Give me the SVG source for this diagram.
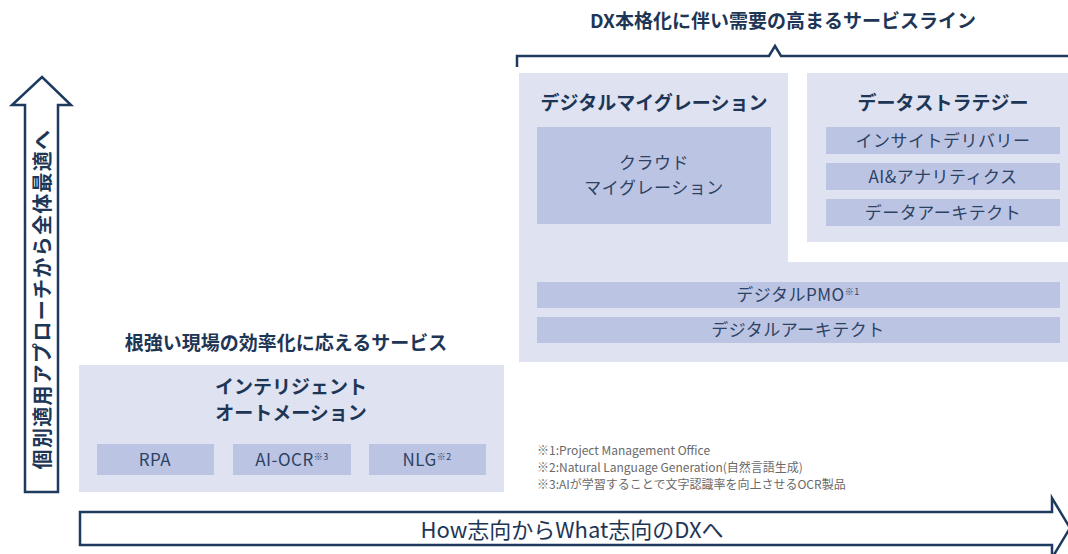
<svg xmlns="http://www.w3.org/2000/svg" width="1068" height="554" viewBox="0 0 1068 554">
<style>
text{font-family:"Noto Sans CJK JP","Noto Sans",sans-serif;fill:#1e3656}
.t{font-size:19px;font-weight:bold;text-anchor:middle}
.i{font-size:17px;text-anchor:middle;fill:#2c4263;letter-spacing:0.5px}
.pl{fill:#dfe2f1}
.bx{fill:#bcc4e3}
.ln{fill:none;stroke:#1f3a5f;stroke-width:2.5}
.fn{font-size:12px;fill:#6a6a6a}
</style>
<rect width="1068" height="554" fill="#fff"/>
<g id="connectors">
<path id="vertical-arrow" class="ln" d="M25,492 L58,492 L58,105 L71,105 L42,77 L12,105 L25,105 Z" fill="#fff"/>
<path id="horizontal-arrow" class="ln" d="M80,512 L1052,512 L1052,498 L1070,528 L1052,558 L1052,545 L80,545 Z" fill="#fff"/>
<path id="bracket" class="ln" d="M517,67 L517,56 L769,56 L775,46 L781,56 L1068,56"/>
</g>
<text x="41" y="299" transform="rotate(-90 41 299)" dominant-baseline="central" style="font-size:20px;font-weight:bold;text-anchor:middle;letter-spacing:1.3px">個別適用アプローチから全体最適へ</text>
<text x="572" y="528" dominant-baseline="central" style="font-size:22px;text-anchor:middle">How志向からWhat志向のDXへ</text>
<text class="t" x="783" y="28">DX本格化に伴い需要の高まるサービスライン</text>
<g id="digital-panel">
<path class="pl" d="M519,73 L788,73 L788,262 L1068,262 L1068,362 L519,362 Z"/>
</g>
<g id="digital-migration">
<text class="t" x="654" y="110">デジタルマイグレーション</text>
<rect class="bx" x="537" y="127" width="234" height="97"/>
<text class="i" x="654" y="169">クラウド</text>
<text class="i" x="654" y="194">マイグレーション</text>
</g>
<g id="data-strategy">
<rect class="pl" x="807" y="73" width="261" height="169"/>
<text class="t" x="943" y="110">データストラテジー</text>
<rect class="bx" x="826" y="127" width="234" height="27"/>
<text class="i" x="943" y="147">インサイトデリバリー</text>
<rect class="bx" x="826" y="163" width="234" height="27"/>
<text class="i" x="943" y="183">AI&amp;アナリティクス</text>
<rect class="bx" x="826" y="199" width="234" height="27"/>
<text class="i" x="943" y="219">データアーキテクト</text>
</g>
<g id="digital-pmo">
<rect class="bx" x="537" y="282" width="523" height="26"/>
<text class="i" x="798" y="301">デジタルPMO<tspan font-size="9" dy="-6">※1</tspan></text>
</g>
<g id="digital-architect">
<rect class="bx" x="537" y="317" width="523" height="26"/>
<text class="i" x="798" y="336">デジタルアーキテクト</text>
</g>
<g id="field-services">
<text class="t" x="286" y="350">根強い現場の効率化に応えるサービス</text>
<rect class="pl" x="79" y="365" width="425" height="127"/>
<text class="t" x="291" y="394">インテリジェント</text>
<text class="t" x="291" y="420">オートメーション</text>
</g>
<g id="rpa">
<rect class="bx" x="97" y="444" width="117" height="31"/>
<text class="i" x="155" y="466">RPA</text>
</g>
<g id="ai-ocr">
<rect class="bx" x="233" y="444" width="118" height="31"/>
<text class="i" x="292" y="466">AI-OCR<tspan font-size="9" dy="-6">※3</tspan></text>
</g>
<g id="nlg">
<rect class="bx" x="369" y="444" width="117" height="31"/>
<text class="i" x="427" y="466">NLG<tspan font-size="9" dy="-6">※2</tspan></text>
</g>
<g id="footnotes">
<text class="fn" x="537" y="455">※1:Project Management Office</text>
<text class="fn" x="537" y="472">※2:Natural Language Generation(自然言語生成)</text>
<text class="fn" x="537" y="489">※3:AIが学習することで文字認識率を向上させるOCR製品</text>
</g>
</svg>
